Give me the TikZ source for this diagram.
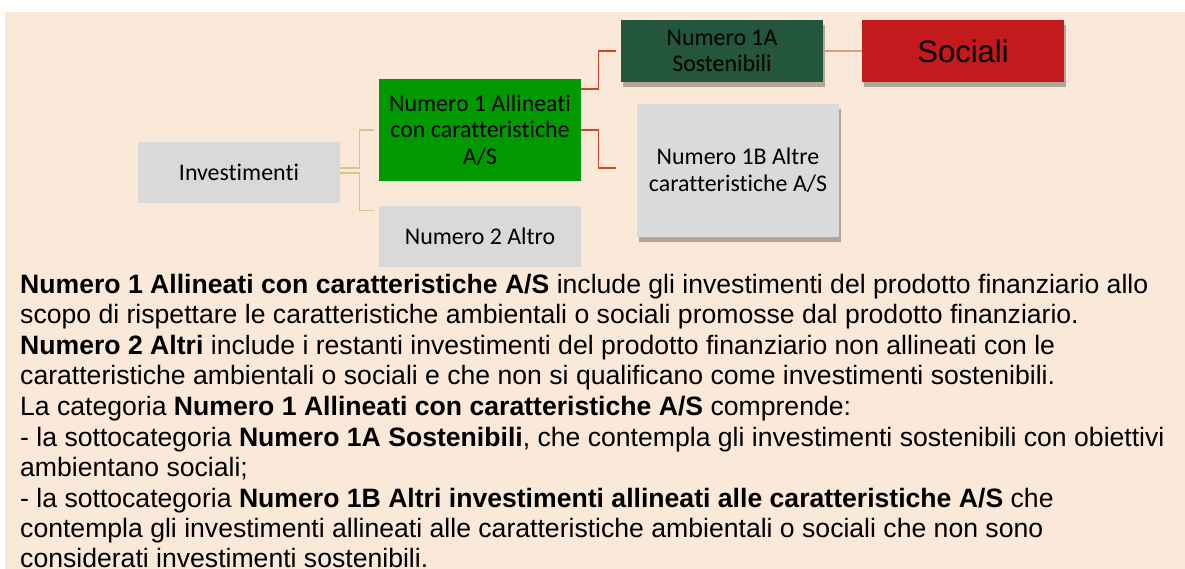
\documentclass[tikz,border=0pt]{standalone}
\usepackage{fontspec}
\setmainfont{Liberation Sans}
\newfontfamily\diagfont[Ligatures={NoCommon}]{Carlito}
\usetikzlibrary{calc,shadows}
\definecolor{peach}{RGB}{250,233,217}
\definecolor{boxgray}{RGB}{217,217,217}
\definecolor{boxgrayb}{RGB}{217,218,220}
\definecolor{boxgreen}{RGB}{0,153,0}
\definecolor{darkgreen}{RGB}{36,86,60}
\definecolor{boxred}{RGB}{195,27,29}
\definecolor{tanline}{RGB}{212,199,135}
\definecolor{redline}{RGB}{206,70,42}
\definecolor{softline}{RGB}{214,160,132}
\definecolor{shadowc}{RGB}{168,154,142}
\tikzset{
  x=1pt,y=1pt,
  dbox/.style={rectangle, inner sep=0pt, align=center, text=black,
    font=\diagfont\fontsize{23.9}{26.7}\selectfont},
  shad/.style={drop shadow={shadow xshift=2pt, shadow yshift=-5pt, fill=shadowc, opacity=0.85}},
  tanconn/.style={draw=tanline, line width=1.4pt},
  redconn/.style={draw=redline, line width=1.4pt},
  softconn/.style={draw=softline, line width=1.1pt},
  body/.style={anchor=base west, inner sep=0pt, font=\fontsize{26.6}{30.6}\selectfont}
}
\begin{document}
\begin{tikzpicture}
\useasboundingbox (0,0) rectangle (1185,-569);
\clip (0,0) rectangle (1185,-569);
\fill[white] (0,0) rectangle (1185,-569);
\fill[peach] (5,-12) rectangle (1185,-569);

\node[dbox, fill=boxgray, minimum width=202pt, minimum height=61pt] (inv) at (239,-172.5) {Investimenti};
\node[dbox, fill=boxgreen, minimum width=202pt, minimum height=102pt] (g) at (480,-130) {Numero 1 Allineati\\con caratteristiche\\A/S};
\node[dbox, fill=boxgray, minimum width=202pt, minimum height=61pt] (n2) at (480,-236.5) {Numero 2 Altro};
\node[dbox, shad, fill=darkgreen, minimum width=202pt, minimum height=62pt] (a1) at (722,-51) {Numero 1A\\Sostenibili};
\node[dbox, shad, fill=boxred, minimum width=202pt, minimum height=62pt, font=\fontsize{31}{34}\selectfont] (soc) at (963,-51) {Sociali};
\node[dbox, shad, fill=boxgrayb, minimum width=202pt, minimum height=133pt] (b1) at (738,-170.5) {Numero 1B Altre\\caratteristiche A/S};

% connectors from Investimenti
\coordinate (ge) at ($(g.west)+(-5,0)$);
\coordinate (n2e) at ($(n2.north west)+(-5,-5)$);
\draw[tanconn] ($(inv.east)+(0,4.5)$) -| ($(inv.east)!0.5!(g.west)+(0,0)$) coordinate (m1) |- (ge);
\draw[tanconn] ($(inv.east)+(0,-0.5)$) -| (m1 |- inv.east) |- (n2e);
% connectors from green box
\coordinate (a1e) at ($(a1.west)+(-5,0)$);
\coordinate (b1e) at ($(b1.west)+(-21,2.5)$);
\draw[redconn] ($(g.east)+(0,41)$) -| ($(g.east)+(17,41)$) |- (a1e);
\draw[redconn] (g.east) -| ($(g.east)+(17,0)$) |- (b1e);
\draw[softconn] (a1.east) -- (soc.west);

% body text
\node[body] (t1) at (20,-293) {\textbf{Numero 1 Allineati con caratteristiche A/S} include gli investimenti del prodotto finanziario allo};
\node[body] (t2) at (20,-323.6) {scopo di rispettare le caratteristiche ambientali o sociali promosse dal prodotto finanziario.};
\node[body] (t3) at (20,-354.2) {\textbf{Numero 2 Altri} include i restanti investimenti del prodotto finanziario non allineati con le};
\node[body] (t4) at (20,-384.8) {caratteristiche ambientali o sociali e che non si qualificano come investimenti sostenibili.};
\node[body] (t5) at (20,-415.4) {La categoria \textbf{Numero 1 Allineati con caratteristiche A/S} comprende:};
\node[body] (t6) at (20,-446) {- la sottocategoria \textbf{Numero 1A Sostenibili}, che contempla gli investimenti sostenibili con obiettivi};
\node[body] (t7) at (20,-476.6) {ambientano sociali;};
\node[body] (t8) at (20,-507.2) {- la sottocategoria \textbf{Numero 1B Altri investimenti allineati alle caratteristiche A/S} che};
\node[body] (t9) at (20,-537.8) {contempla gli investimenti allineati alle caratteristiche ambientali o sociali che non sono};
\node[body] (t10) at (20,-567.4) {considerati investimenti sostenibili.};
\end{tikzpicture}
\end{document}
